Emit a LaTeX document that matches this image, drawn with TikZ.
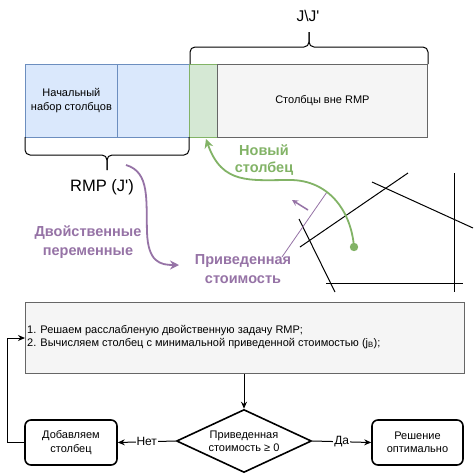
\documentclass[tikz,border=0pt]{standalone}
\usepackage{fontspec}
\setmainfont{Liberation Sans}
\usetikzlibrary{shapes.geometric,arrows.meta}
\definecolor{bluefill}{HTML}{DAE8FC}
\definecolor{bluestroke}{HTML}{6C8EBF}
\definecolor{greenfill}{HTML}{D5E8D4}
\definecolor{greenstroke}{HTML}{82B366}
\definecolor{grayfill}{HTML}{F5F5F5}
\definecolor{graystroke}{HTML}{666666}
\definecolor{purp}{HTML}{9673A6}
\tikzset{
  colbox/.style={rectangle, draw, line width=0.8pt, inner sep=0pt, anchor=north west, minimum height=73pt, align=center, font=\fontsize{11}{14}\selectfont},
  bluebox/.style={colbox, fill=bluefill, draw=bluestroke},
  greenbox/.style={colbox, fill=greenfill, draw=greenstroke},
  graybox/.style={colbox, fill=grayfill, draw=graystroke},
  bracepath/.style={line width=1pt, rounded corners=5pt},
  plabel/.style={text=purp, font=\bfseries\fontsize{14.5}{18.5}\selectfont, align=center},
  glabel/.style={text=greenstroke, font=\bfseries\fontsize{14.5}{17}\selectfont, align=center},
  polyline/.style={line width=1pt, black},
  flowbox/.style={rectangle, rounded corners=6pt, draw, line width=1.6pt, minimum width=92pt, minimum height=45pt, align=center, font=\fontsize{11}{13.5}\selectfont},
  flowarrow/.style={line width=1pt, -{Stealth[length=7pt,width=6pt]}},
  edgelabel/.style={fill=white, inner sep=1pt, font=\fontsize{12}{14}\selectfont}
}
\begin{document}
\begin{tikzpicture}[x=1pt,y=-1pt]
\useasboundingbox (0,0) rectangle (474,475);
\fill[white] (0,0) rectangle (474,475);

% top row of columns
\node[bluebox, minimum width=92pt] (blueA) at (25,64) {Начальный\\набор столбцов};
\node[bluebox, minimum width=72pt] (blueB) at (117,64) {};
\node[greenbox, minimum width=28pt] (newcol) at (189,64) {};
\node[graybox, minimum width=210pt] (outcol) at (217,64) {Столбцы вне RMP};

% top brace
\coordinate (tbL) at (190,64);
\coordinate (tbR) at (428,64);
\coordinate (tbT) at (309,32);
\draw[bracepath] (tbL) -- (190,47) -- (309,47) -- (tbT);
\draw[bracepath] (tbR) -- (428,47) -- (309,47) -- (tbT);
\node[font=\fontsize{15.5}{17}\selectfont] (jlabel) at (308,16) {J\textbackslash J\textquotesingle};

% bottom brace
\coordinate (bbL) at (25,137);
\coordinate (bbR) at (189,137);
\coordinate (bbT) at (107,170);
\draw[bracepath] (bbL) -- (25,155) -- (107,155) -- (bbT);
\draw[bracepath] (bbR) -- (189,155) -- (107,155) -- (bbT);
\node[font=\fontsize{16.5}{18}\selectfont] (rmplabel) at (102,187) {RMP (J\textquotesingle)};

% labels
\node[plabel] (dual) at (88,242) {Двойственные\\переменные};
\node[plabel] (redcost) at (243,269) {Приведенная\\стоимость};
\node[glabel] (newlabel) at (264,160) {Новый\\столбец};

% polytope
\draw[polyline] (300,247) -- (408,173);
\draw[polyline] (372,182) -- (473,228);
\draw[polyline] (454,173) -- (454,292);
\draw[polyline] (326,283) -- (463,283);
\draw[polyline] (299,219) -- (335,292);

% purple cut line and direction arrow
\draw[purp, line width=0.8pt] (327,192) -- (282,257);
\coordinate (dirS) at (308,210);
\coordinate (dirE) at (292,200);
\draw[purp, line width=1.5pt, -{Stealth[length=6pt,width=6pt]}] (dirS) -- (dirE);

% purple curved arrow
\coordinate (pS) at (126,165);
\coordinate (pE) at (179,265);
\draw[purp, line width=1.8pt, -{Stealth[length=9pt,width=9pt]}] (pS) .. controls (150,172) and (146,200) .. (147,232) .. controls (148,262) and (160,265) .. (pE);

% green curved arrow
\coordinate (gdot) at (354,247);
\fill[greenstroke] (gdot) circle (4.2pt);
\draw[greenstroke, line width=1.8pt, -{Stealth[length=9pt,width=9pt]}] (gdot) .. controls (351,210) and (328,180) .. (290,180) .. controls (250,180) and (222,185) .. (206,139);

% process box
\node[rectangle, draw=graystroke, fill=grayfill, line width=0.8pt, minimum width=439pt, minimum height=71pt, anchor=north west, inner sep=0pt] (proc) at (25,302) {};
\node[anchor=west, align=left, inner sep=0pt, font=\fontsize{11}{12.5}\selectfont] (proctext) at (27,337) {1. Решаем расслабленую двойственную задачу RMP;\\2. Вычисляем столбец с минимальной приведенной стоимостью (j\textsubscript{B});};

% decision
\node[diamond, draw, line width=1.6pt, minimum width=135pt, minimum height=63pt, inner sep=0pt] (dec) at (244,441) {};
\node[align=center, font=\fontsize{11}{13}\selectfont] (dectext) at (dec) {Приведенная\\стоимость ≥ 0};

\node[flowbox] (addcol) at (71,442.5) {Добавляем\\столбец};
\node[flowbox, minimum width=91pt] (opt) at (417.5,442.5) {Решение\\оптимально};

\draw[flowarrow] (proc.south -| dec.north) -- (dec.north);
\draw[flowarrow] (dec.west) -- node[edgelabel] {Нет} (addcol.east);
\draw[flowarrow] (dec.east) -- node[edgelabel] {Да} (opt.west);
\coordinate (loopA) at (7,442.5);
\coordinate (loopB) at (7,338);
\draw[flowarrow] (addcol.west) -- (loopA) -- (loopB) -- (loopB -| proc.west);
\end{tikzpicture}
\end{document}
